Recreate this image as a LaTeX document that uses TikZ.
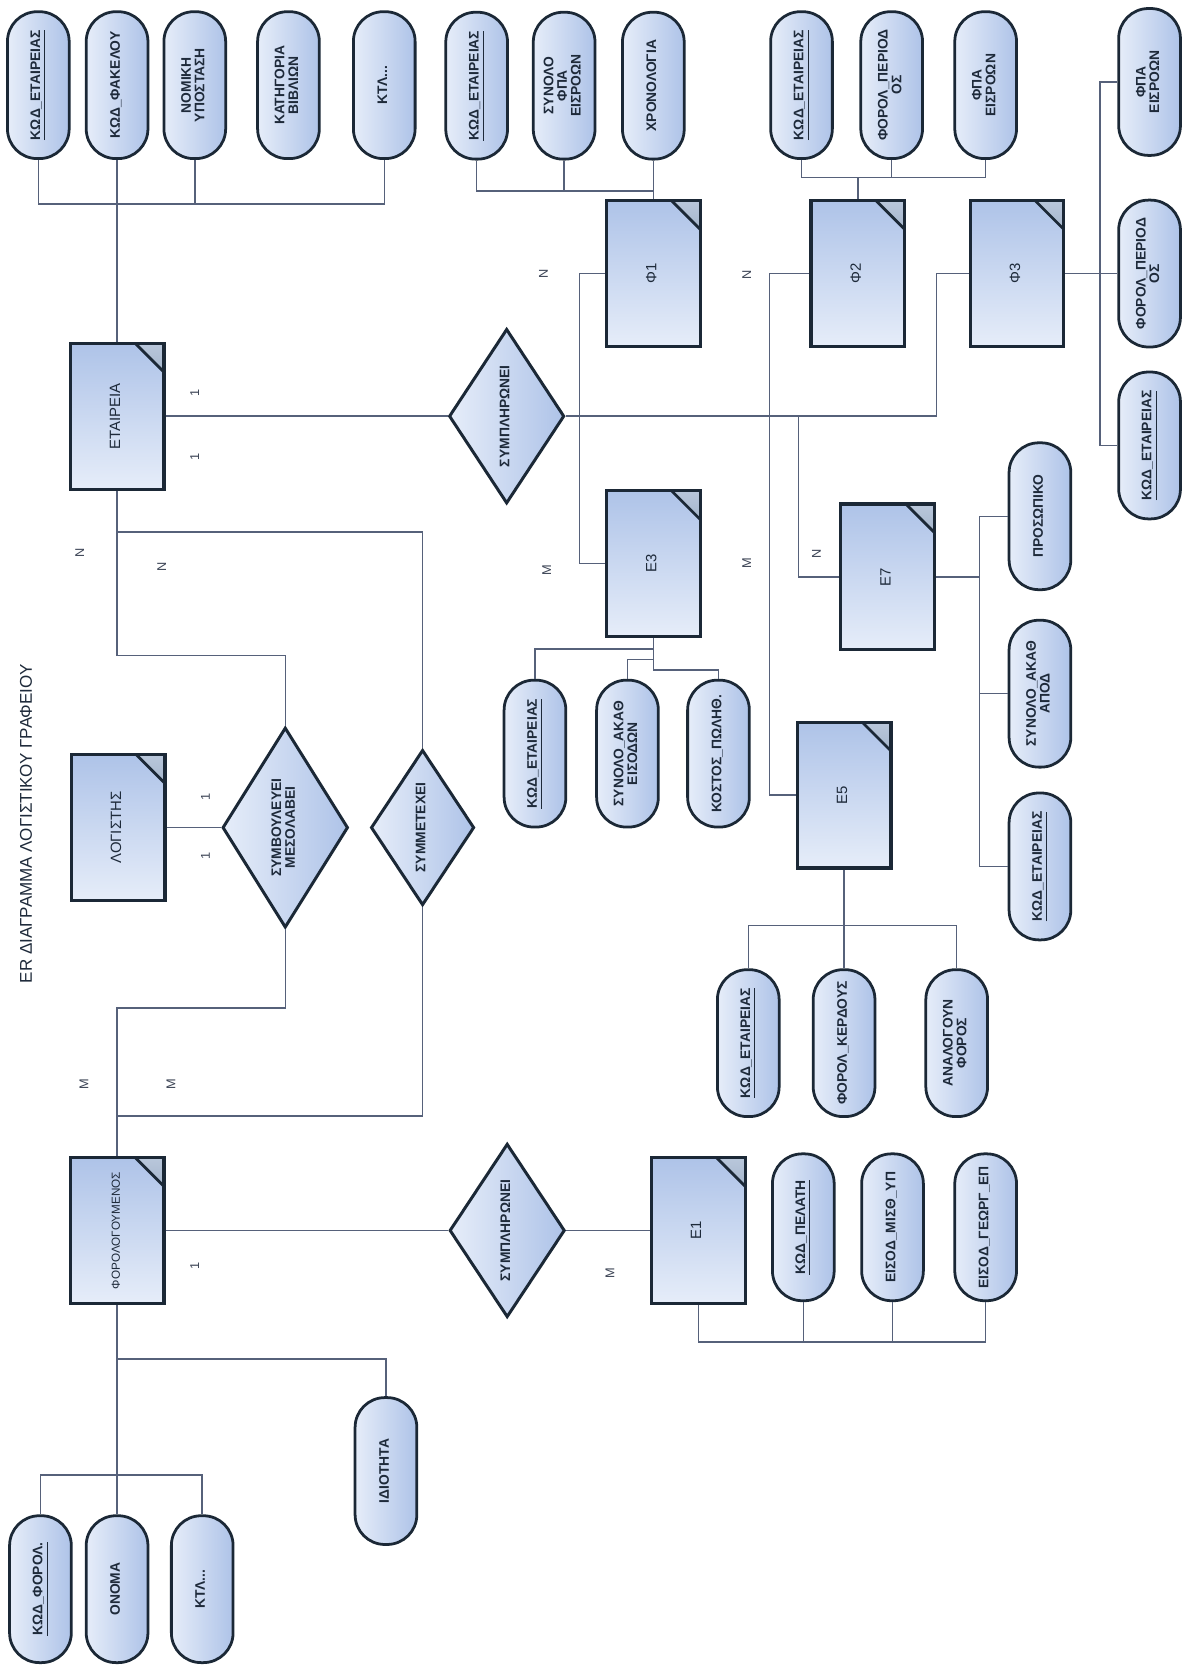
\documentclass[tikz,border=0pt]{standalone}
\usepackage{fontspec}
\setmainfont{Liberation Sans}
\usepackage{graphicx}
\usetikzlibrary{shapes.geometric,calc}
\definecolor{erline}{HTML}{1B2836}
\definecolor{erwire}{HTML}{56617A}
\definecolor{erlight}{HTML}{E6EDF9}
\definecolor{erblue}{HTML}{AEC3E8}
\definecolor{earlight}{HTML}{B9C7DB}
\definecolor{eardark}{HTML}{55708F}
\definecolor{ertext}{HTML}{1E2A3A}
\newcommand{\erfont}{\fontsize{6.5}{7}\selectfont\bfseries}
\newcommand{\vtxt}[1]{\rotatebox{90}{\begin{tabular}{@{}c@{}}#1\end{tabular}}}
\renewcommand{\arraystretch}{0.9}

\begin{document}
\begin{tikzpicture}[x=0.5pt,y=-0.5pt,
    attr/.style={rectangle,rounded corners=14pt,minimum width=29pt,minimum height=69pt,
        inner sep=1pt,draw=erline,line width=1.3pt,left color=erlight,right color=erblue,
        text=ertext,font=\erfont},
    ent/.style={rectangle,minimum width=44pt,minimum height=68.5pt,inner sep=1pt,
        draw=erline,line width=1.5pt,top color=erblue,bottom color=erlight,
        text=ertext,font=\fontsize{7}{7.5}\selectfont,
        path picture={
          \shade[top color=earlight,bottom color=eardark]
            ([xshift=-13.5pt]path picture bounding box.north east)
            -- (path picture bounding box.north east)
            -- ([yshift=-13.5pt]path picture bounding box.north east) -- cycle;
          \draw[erline,line width=1.3pt]
            ([xshift=-13.5pt]path picture bounding box.north east)
            -- ([yshift=-13.5pt]path picture bounding box.north east);}},
    rel/.style={diamond,inner sep=0pt,draw=erline,line width=1.4pt,
        left color=erlight,right color=erblue,text=ertext,font=\erfont},
    card/.style={rotate=90,inner sep=0pt,text=erwire!70!black,font=\fontsize{6}{6}\selectfont},
    wire/.style={draw=erwire,line width=0.7pt}]
    \fill[white] (0,0) rectangle (1121,1568);
    \useasboundingbox (0,0) rectangle (1121,1568);
    \node[text=ertext,font=\fontsize{8}{8}\selectfont] (title) at (24.4,774)
        {\rotatebox{90}{ER ΔΙΑΓΡΑΜΜΑ ΛΟΓΙΣΤΙΚΟΥ ΓΡΑΦΕΙΟΥ}};
    %%
    \node[attr] (etkod) at (36,80) {\vtxt{\underline{ΚΩΔ\_ΕΤΑΙΡΕΙΑΣ}}};
    \node[attr] (etfak) at (110,80) {\vtxt{ΚΩΔ\_ΦΑΚΕΛΟΥ}};
    \node[attr] (etnom) at (183,80) {\vtxt{ΝΟΜΙΚΗ\\ΥΠΟΣΤΑΣΗ}};
    \node[attr] (etkat) at (271,80) {\vtxt{ΚΑΤΗΓΟΡΙΑ\\ΒΙΒΛΙΩΝ}};
    \node[attr] (etktl) at (361,80) {\vtxt{ΚΤΛ...}};
    \node[ent] (etairia) at (110,391) {\vtxt{ΕΤΑΙΡΕΙΑ}};
    \coordinate (etbus) at (0,191.7);
    \draw[wire] (etkod.south) |- (etktl.south |- etbus) -- (etktl.south);
    \draw[wire] (etnom.south) -- (etnom.south |- etbus);
    \draw[wire] (etfak.south) -- (etairia.north);
    %%
    \node[ent] (logistis) at (111,777.5) {\vtxt{ΛΟΓΙΣΤΗΣ}};
    \node[ent] (forol) at (110,1156) {\vtxt{\fontsize{5.5}{6}\selectfont ΦΟΡΟΛΟΓΟΥΜΕΝΟΣ}};
    \node[rel,minimum width=59pt,minimum height=94pt] (symv) at (268,777.5)
        {\vtxt{ΣΥΜΒΟΥΛΕΥΕΙ\\ΜΕΣΟΛΑΒΕΙ}};
    \node[rel,minimum width=43pt,minimum height=73pt] (symm) at (397,777.5)
        {\vtxt{ΣΥΜΜΕΤΕΧΕΙ}};
    \coordinate (upA) at (0,616);
    \coordinate (upB) at (0,500);
    \coordinate (loA) at (0,947);
    \coordinate (loB) at (0,1048.5);
    \draw[wire] (etairia.south) |- (symv.north |- upA) -- (symv.north);
    \draw[wire] (etairia.south |- upB) -| (symm.north);
    \draw[wire] (logistis.east) -- (symv.west);
    \draw[wire] (symv.south) |- (forol.north |- loA) -- (forol.north);
    \draw[wire] (symm.south) |- (forol.north |- loB);
    %%
    \node[attr] (fokod) at (38,1493) {\vtxt{\underline{ΚΩΔ\_ΦΟΡΟΛ.}}};
    \node[attr] (foonom) at (110,1493) {\vtxt{ΟΝΟΜΑ}};
    \node[attr] (foktl) at (190,1493) {\vtxt{ΚΤΛ...}};
    \node[attr] (foid) at (362.6,1382) {\vtxt{ΙΔΙΟΤΗΤΑ}};
    \coordinate (fobus) at (0,1385.8);
    \coordinate (fobr) at (0,1276.8);
    \draw[wire] (forol.south) -- (foonom.north);
    \draw[wire] (fokod.north) |- (foktl.north |- fobus) -- (foktl.north);
    \draw[wire] (forol.south |- fobr) -| (foid.north);
    %%
    \node[rel,minimum width=41.5pt,minimum height=82pt] (sympl) at (476,391) {\vtxt{ΣΥΜΠΛΗΡΩΝΕΙ}};
    \node[ent] (fi1) at (613.8,257) {\vtxt{Φ1}};
    \node[ent] (fi2) at (806,257) {\vtxt{Φ2}};
    \node[ent] (fi3) at (955.5,257) {\vtxt{Φ3}};
    \node[ent] (ep3) at (613.8,529.5) {\vtxt{Ε3}};
    \node[ent] (ep7) at (834,542) {\vtxt{Ε7}};
    \node[ent] (ep5) at (793,747) {\vtxt{Ε5}};
    \coordinate (turn) at (880,0);
    \coordinate (vone) at (544.3,0);
    \coordinate (vtwo) at (723,0);
    \coordinate (vthree) at (750,0);
    \draw[wire] (etairia.east) -- (sympl.west);
    \draw[wire] (sympl.east) -- (sympl.east -| turn) |- (fi3.west);
    \draw[wire] (fi1.west) -- (fi1.west -| vone) |- (ep3.west);
    \draw[wire] (fi2.west) -- (fi2.west -| vtwo) |- (ep5.west);
    \draw[wire] (sympl.east -| vthree) |- (ep7.west);
    %%
    \node[attr] (f1kod) at (447.8,80.5) {\vtxt{\underline{ΚΩΔ\_ΕΤΑΙΡΕΙΑΣ}}};
    \node[attr] (f1fpa) at (530,80.5) {\vtxt{ΣΥΝΟΛΟ\\ΦΠΑ\\ΕΙΣΡΟΩΝ}};
    \node[attr] (f1xr) at (613.8,80.5) {\vtxt{ΧΡΟΝΟΛΟΓΙΑ}};
    \coordinate (f1bus) at (0,179.6);
    \draw[wire] (f1kod.south) |- (f1xr.south |- f1bus);
    \draw[wire] (f1fpa.south) -- (f1fpa.south |- f1bus);
    \draw[wire] (f1xr.south) -- (fi1.north);
    %%
    \node[attr] (f2kod) at (753,80) {\vtxt{\underline{ΚΩΔ\_ΕΤΑΙΡΕΙΑΣ}}};
    \node[attr] (f2per) at (837.7,80) {\vtxt{ΦΟΡΟΛ\_ΠΕΡΙΟΔ\\ΟΣ}};
    \node[attr] (f2fpa) at (926,80) {\vtxt{ΦΠΑ\\ΕΙΣΡΟΩΝ}};
    \coordinate (f2bus) at (0,166.8);
    \draw[wire] (f2kod.south) |- (f2fpa.south |- f2bus) -- (f2fpa.south);
    \draw[wire] (f2per.south) -- (f2per.south |- f2bus);
    \draw[wire] (fi2.north) -- (fi2.north |- f2bus);
    %%
    \node[attr] (f3fpa) at (1080,77) {\vtxt{ΦΠΑ\\ΕΙΣΡΟΩΝ}};
    \node[attr] (f3per) at (1080,257) {\vtxt{ΦΟΡΟΛ\_ΠΕΡΙΟΔ\\ΟΣ}};
    \node[attr] (f3kod) at (1080,418.5) {\vtxt{\underline{ΚΩΔ\_ΕΤΑΙΡΕΙΑΣ}}};
    \coordinate (f3bus) at (1033.5,0);
    \draw[wire] (fi3.east) -- (f3per.west);
    \draw[wire] (f3fpa.west) -- (f3fpa.west -| f3bus) -- (f3kod.west -| f3bus) -- (f3kod.west);
    %%
    \node[attr] (e3kod) at (502.6,708) {\vtxt{\underline{ΚΩΔ\_ΕΤΑΙΡΕΙΑΣ}}};
    \node[attr] (e3syn) at (589.5,708) {\vtxt{ΣΥΝΟΛΟ\_ΑΚΑΘ\\ΕΙΣΟΔΩΝ}};
    \node[attr] (e3kos) at (675,708) {\vtxt{ΚΟΣΤΟΣ\_ΠΩΛΗΘ.}};
    \draw[wire] (ep3.south) -- ++(0,30) -| (e3kos.north);
    \draw[wire] (ep3.south) ++(0,10) -| (e3kod.north);
    \draw[wire] (ep3.south) ++(0,20) -| (e3syn.north);
    %%
    \node[attr] (e7pro) at (977,485) {\vtxt{ΠΡΟΣΩΠΙΚΟ}};
    \node[attr] (e7syn) at (977,651.7) {\vtxt{ΣΥΝΟΛΟ\_ΑΚΑΘ\\ΑΠΟΔ}};
    \node[attr] (e7kod) at (977,814) {\vtxt{\underline{ΚΩΔ\_ΕΤΑΙΡΕΙΑΣ}}};
    \coordinate (e7bus) at (920,0);
    \draw[wire] (ep7.east) -- (ep7.east -| e7bus);
    \draw[wire] (e7pro.west) -- (e7pro.west -| e7bus) -- (e7kod.west -| e7bus) -- (e7kod.west);
    \draw[wire] (e7syn.west) -- (e7syn.west -| e7bus);
    %%
    \node[attr] (e5kod) at (703,980) {\vtxt{\underline{ΚΩΔ\_ΕΤΑΙΡΕΙΑΣ}}};
    \node[attr] (e5ker) at (793,980) {\vtxt{ΦΟΡΟΛ\_ΚΕΡΔΟΥΣ}};
    \node[attr] (e5ana) at (898.8,980) {\vtxt{ΑΝΑΛΟΓΟΥΝ\\ΦΟΡΟΣ}};
    \coordinate (e5bus) at (0,869.7);
    \draw[wire] (ep5.south) -- (e5ker.north);
    \draw[wire] (e5kod.north) |- (e5ana.north |- e5bus) -- (e5ana.north);
    %%
    \node[rel,minimum width=42pt,minimum height=81.5pt] (sympltwo) at (476.5,1156) {\vtxt{ΣΥΜΠΛΗΡΩΝΕΙ}};
    \node[ent] (ep1) at (656,1156) {\vtxt{Ε1}};
    \draw[wire] (forol.east) -- (sympltwo.west);
    \draw[wire] (sympltwo.east) -- (ep1.west);
    \node[attr] (e1kod) at (754.7,1153) {\vtxt{\underline{ΚΩΔ\_ΠΕΛΑΤΗ}}};
    \node[attr] (e1mis) at (838.5,1153) {\vtxt{ΕΙΣΟΔ\_ΜΙΣΘ\_ΥΠ}};
    \node[attr] (e1geo) at (926,1153) {\vtxt{ΕΙΣΟΔ\_ΓΕΩΡΓ\_ΕΠ}};
    \coordinate (e1bus) at (0,1261);
    \draw[wire] (ep1.south) |- (e1geo.south |- e1bus) -- (e1geo.south);
    \draw[wire] (e1kod.south) -- (e1kod.south |- e1bus);
    \draw[wire] (e1mis.south) -- (e1mis.south |- e1bus);
    %%
    \node[card] (cone) at (183,369) {1};
    \node[card] (ctwo) at (183,429) {1};
    \node[card] (cthree) at (75,519.5) {N};
    \node[card] (cfour) at (152,532.7) {N};
    \node[card] (cfive) at (193,749) {1};
    \node[card] (csix) at (193,804) {1};
    \node[card] (cseven) at (79,1019) {M};
    \node[card] (ceight) at (160.6,1019) {M};
    \node[card] (cnine) at (183,1189.5) {1};
    \node[card] (cten) at (510.5,257) {N};
    \node[card] (celeven) at (513.6,535.5) {M};
    \node[card] (ctwelve) at (701.5,258) {N};
    \node[card] (cthirteen) at (701.5,529) {M};
    \node[card] (cfourteen) at (767,520.6) {N};
    \node[card] (cfifteen) at (573,1196) {M};
\end{tikzpicture}
\end{document}
